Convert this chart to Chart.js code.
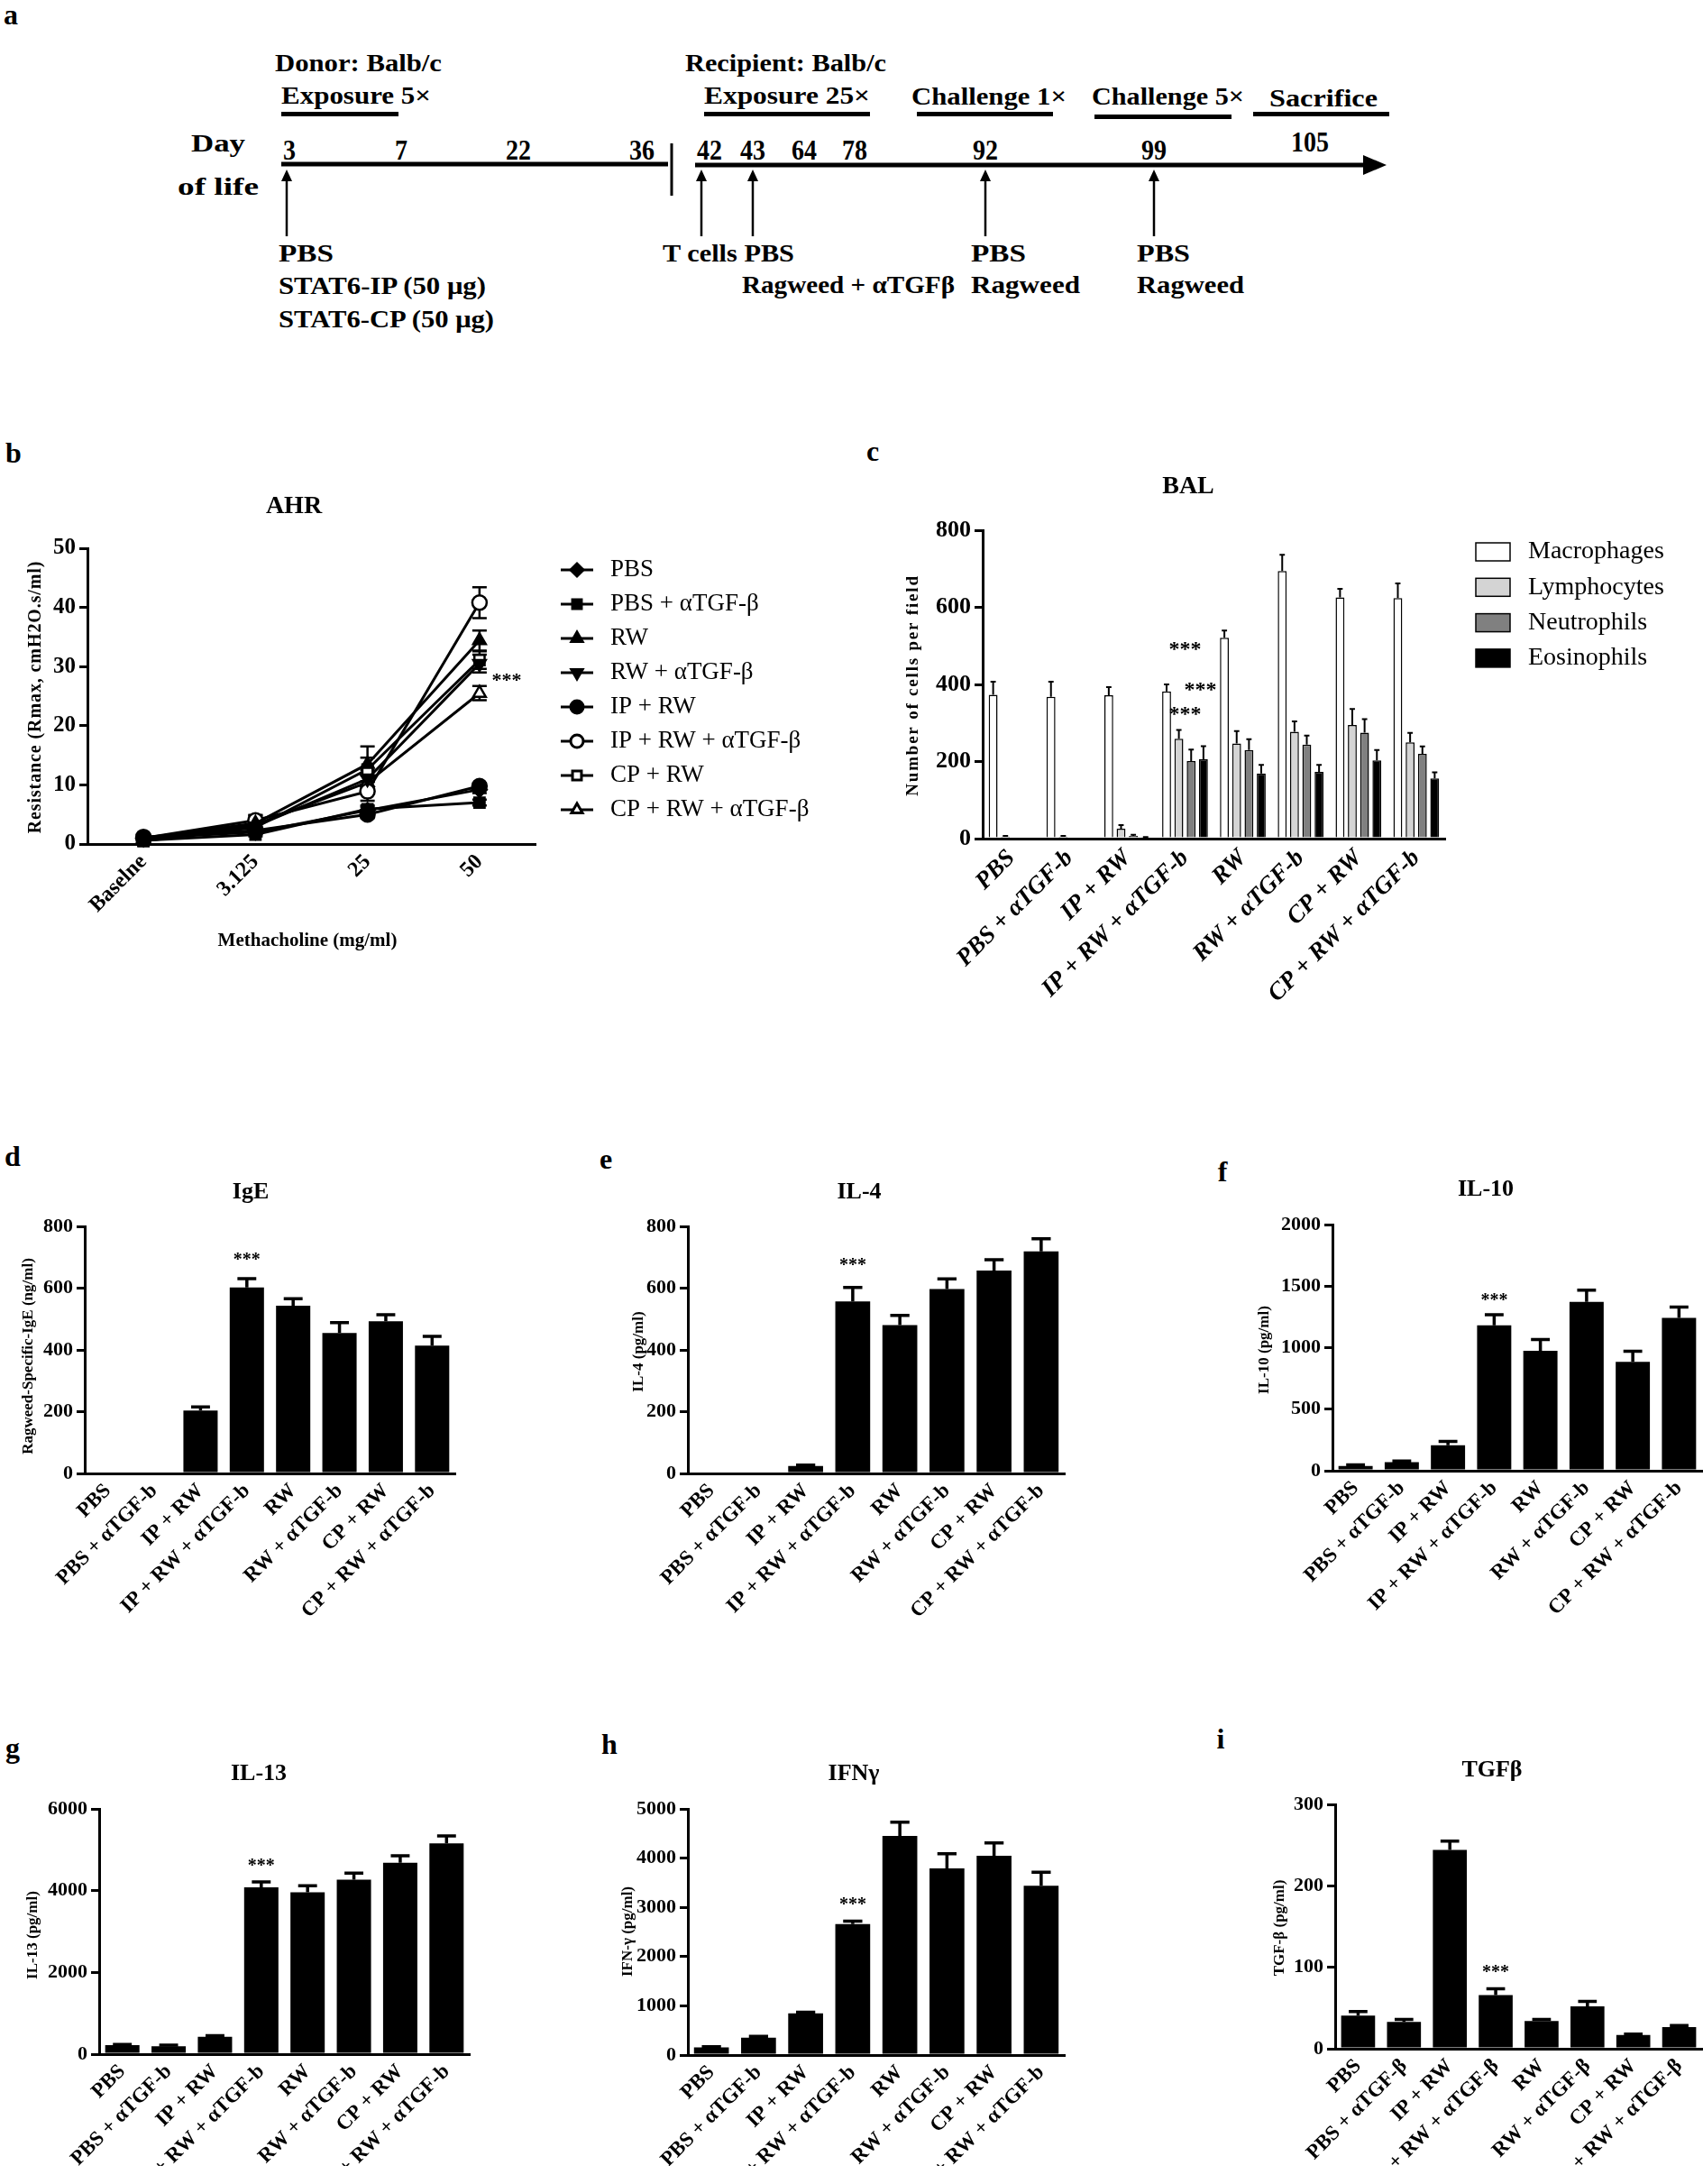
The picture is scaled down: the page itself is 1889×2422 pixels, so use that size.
<!DOCTYPE html>
<html>
<head>
<meta charset="utf-8">
<script src="https://cdn.jsdelivr.net/npm/chart.js@4.4.1/dist/chart.umd.min.js"></script>
<style>
  html, body { margin: 0; padding: 0; background: #fff; }
  #page { position: relative; width: 1889px; height: 2422px; overflow: hidden; background: #fff; }
  #page svg { position: absolute; left: 0; top: 0; }
  #page canvas { position: absolute; }
</style>
</head>
<body>
<div id="page">
<svg width="1889" height="420" font-family="Liberation Serif, Times New Roman, serif" font-weight="bold" fill="#000">
  <!-- header labels -->
  <g font-size="27">
    <text x="305" y="79" textLength="185" lengthAdjust="spacingAndGlyphs">Donor: Balb/c</text>
    <text x="312" y="115" textLength="166" lengthAdjust="spacingAndGlyphs">Exposure 5×</text>
    <text x="760" y="79" textLength="223" lengthAdjust="spacingAndGlyphs">Recipient: Balb/c</text>
    <text x="781" y="115" textLength="184" lengthAdjust="spacingAndGlyphs">Exposure 25×</text>
    <text x="1011" y="116" textLength="172" lengthAdjust="spacingAndGlyphs">Challenge 1×</text>
    <text x="1211" y="116" textLength="169" lengthAdjust="spacingAndGlyphs">Challenge 5×</text>
    <text x="1408" y="118" textLength="120" lengthAdjust="spacingAndGlyphs">Sacrifice</text>
    <text x="212" y="168" textLength="60" lengthAdjust="spacingAndGlyphs">Day</text>
    <text x="197" y="216" textLength="90" lengthAdjust="spacingAndGlyphs">of life</text>
  </g>
  <g stroke="none">
    <rect x="312" y="124" width="130" height="5"/>
    <rect x="781" y="124" width="184" height="5"/>
    <rect x="1017" y="124" width="151" height="5"/>
    <rect x="1214" y="127" width="152" height="5"/>
    <rect x="1390" y="124" width="151" height="5"/>
  </g>
  <!-- day numbers -->
  <g id="days" font-size="32" text-anchor="middle"></g>
  <!-- time line -->
  <line x1="312" y1="182" x2="741" y2="182" stroke="#000" stroke-width="5"/>
  <line x1="745" y1="159" x2="745" y2="217" stroke="#000" stroke-width="3"/>
  <line x1="771" y1="183" x2="1516" y2="183" stroke="#000" stroke-width="5"/>
  <polygon points="1512,172 1538,183 1512,194"/>
  <g id="arrows"></g>
  <g font-size="27">
    <text x="309" y="290" textLength="61" lengthAdjust="spacingAndGlyphs">PBS</text>
    <text x="309" y="326" textLength="230" lengthAdjust="spacingAndGlyphs">STAT6-IP (50 μg)</text>
    <text x="309" y="363" textLength="239" lengthAdjust="spacingAndGlyphs">STAT6-CP (50 μg)</text>
    <text x="735" y="290" textLength="146" lengthAdjust="spacingAndGlyphs">T cells PBS</text>
    <text x="823" y="325" textLength="236" lengthAdjust="spacingAndGlyphs">Ragweed + αTGFβ</text>
    <text x="1077" y="290" textLength="61" lengthAdjust="spacingAndGlyphs">PBS</text>
    <text x="1077" y="325" textLength="121" lengthAdjust="spacingAndGlyphs">Ragweed</text>
    <text x="1261" y="290" textLength="59" lengthAdjust="spacingAndGlyphs">PBS</text>
    <text x="1261" y="325" textLength="119" lengthAdjust="spacingAndGlyphs">Ragweed</text>
  </g>
</svg>
<svg width="1889" height="2422" font-family="Liberation Serif, Times New Roman, serif" font-weight="bold" fill="#000" style="pointer-events:none">
  <g font-size="32" text-anchor="middle" dominant-baseline="central">
    <text x="12" y="16">a</text>
    <text x="15" y="502">b</text>
    <text x="968" y="500">c</text>
    <text x="14" y="1282">d</text>
    <text x="672" y="1285">e</text>
    <text x="1356" y="1299">f</text>
    <text x="14" y="1938">g</text>
    <text x="676" y="1934">h</text>
    <text x="1354" y="1928">i</text>
  </g>
</svg>
</div>
<script>
const SERIF = '"Liberation Serif", "Times New Roman", serif';

// ---------- panel a : timeline ----------
const dayLabels = ['3', '7', '22', '36', '42', '43', '64', '78', '92', '99', '105'];
const dayX = [321, 445, 575, 712, 787, 835, 892, 948, 1093, 1280, 1453];
const arrowX = [318, 778, 835, 1093, 1280];

// ---------- panel b : AHR ----------
const doses = ['Baselne', '3.125', '25', '50'];
const ahrNames = ['PBS', 'PBS + αTGF-β', 'RW', 'RW + αTGF-β', 'IP + RW', 'IP + RW + αTGF-β', 'CP + RW', 'CP + RW + αTGF-β'];
const ahrPbs = [1.0, 2.0, 5.7, 9.2];
const ahrPbsA = [0.6, 1.6, 5.9, 7.0];
const ahrRw = [1.0, 3.5, 13.5, 34.4];
const ahrRwA = [0.9, 3.0, 11.0, 30.5];
const ahrIp = [1.2, 2.3, 5.0, 9.8];
const ahrIpA = [1.0, 4.0, 8.9, 40.8];
const ahrCp = [0.5, 2.8, 12.6, 31.1];
const ahrCpA = [0.8, 3.3, 10.4, 25.5];
const ahrPbsErr = [0.3, 0.4, 0.6, 0.6];
const ahrPbsAErr = [0.2, 0.3, 0.6, 0.5];
const ahrRwErr = [0.3, 1.4, 3.0, 1.7];
const ahrRwAErr = [0.3, 0.8, 1.5, 1.5];
const ahrIpErr = [0.3, 0.5, 0.6, 0.5];
const ahrIpAErr = [0.3, 0.8, 1.6, 2.6];
const ahrCpErr = [0.2, 0.6, 2.0, 1.5];
const ahrCpAErr = [0.2, 0.6, 1.2, 1.2];

// ---------- panel c : BAL ----------
const groupsB = ['PBS', 'PBS + αTGF-b', 'IP + RW', 'IP + RW + αTGF-b', 'RW', 'RW + αTGF-b', 'CP + RW', 'CP + RW + αTGF-b'];
const groupsBeta = ['PBS', 'PBS + αTGF-β', 'IP + RW', 'IP + RW + αTGF-β', 'RW', 'RW + αTGF-β', 'CP + RW', 'CP + RW + αTGF-β'];
const cellTypes = ['Macrophages', 'Lymphocytes', 'Neutrophils', 'Eosinophils'];
const balMacro = [373, 368, 372, 382, 521, 694, 626, 624];
const balLymph = [5, 5, 26, 259, 247, 277, 295, 250];
const balNeut = [0, 0, 7, 201, 230, 244, 275, 220];
const balEos = [0, 0, 3, 206, 169, 173, 203, 156];
const balMacroErr = [34, 39, 21, 18, 19, 42, 22, 38];
const balLymphErr = [2, 2, 9, 23, 32, 27, 41, 24];
const balNeutErr = [0, 0, 3, 30, 28, 23, 35, 19];
const balEosErr = [0, 0, 1, 34, 22, 18, 27, 16];

// ---------- panels d - i ----------
const ige = [0, 0, 204, 602, 543, 455, 493, 414];
const igeErr = [0, 0, 11, 29, 23, 33, 21, 30];
const il4 = [0, 0, 24, 557, 480, 597, 657, 719];
const il4Err = [0, 0, 3, 45, 32, 33, 35, 41];
const il10 = [39, 70, 207, 1182, 975, 1371, 885, 1242];
const il10Err = [8, 8, 31, 86, 91, 96, 85, 88];
const il13 = [220, 195, 425, 4079, 3960, 4266, 4683, 5158];
const il13Err = [15, 26, 25, 136, 162, 162, 170, 179];
const ifng = [155, 353, 847, 2662, 4449, 3792, 4047, 3439];
const ifngErr = [15, 28, 22, 57, 283, 297, 261, 276];
const tgfb = [40.6, 33, 244, 66, 34, 52, 17, 26.5];
const tgfbErr = [5, 3, 11, 7.5, 2, 6, 1, 2];

// ---------- timeline drawing ----------
const NS = 'http://www.w3.org/2000/svg';
const daysG = document.getElementById('days');
dayLabels.forEach((d, i) => {
  const t = document.createElementNS(NS, 'text');
  t.setAttribute('x', dayX[i]);
  t.setAttribute('y', d === '105' ? 168 : 177);
  t.setAttribute('textLength', d.length * 14);
  t.setAttribute('lengthAdjust', 'spacingAndGlyphs');
  t.textContent = d;
  daysG.appendChild(t);
});
const arrowsG = document.getElementById('arrows');
arrowX.forEach(x => {
  const l = document.createElementNS(NS, 'line');
  l.setAttribute('x1', x); l.setAttribute('x2', x);
  l.setAttribute('y1', 262); l.setAttribute('y2', 198);
  l.setAttribute('stroke', '#000'); l.setAttribute('stroke-width', 2.5);
  arrowsG.appendChild(l);
  const p = document.createElementNS(NS, 'polygon');
  p.setAttribute('points', `${x - 6},201 ${x},188 ${x + 6},201`);
  arrowsG.appendChild(p);
});

// ---------- chart helpers ----------
Chart.defaults.animation = false;
Chart.defaults.responsive = false;
Chart.defaults.color = '#000';
Chart.defaults.font.family = SERIF;
Chart.defaults.plugins.legend.display = false;
Chart.defaults.plugins.tooltip.enabled = false;

function txt(ctx, s, x, y, font, opt = {}) {
  ctx.save();
  ctx.font = font;
  ctx.fillStyle = '#000';
  ctx.textAlign = opt.align || 'center';
  ctx.textBaseline = 'middle';
  if (opt.spacing) ctx.letterSpacing = opt.spacing + 'px';
  ctx.translate(x, y);
  if (opt.rot) ctx.rotate(opt.rot);
  ctx.fillText(s, 0, 0);
  ctx.restore();
}

// error bars, titles, stars and legends
const extras = {
  id: 'extras',
  beforeDatasetsDraw(chart, args, o) {
    const ctx = chart.ctx, ys = chart.scales.y;
    ctx.save();
    ctx.strokeStyle = '#000';
    ctx.lineWidth = o.errWidth || 3;
    chart.data.datasets.forEach((ds, di) => {
      if (!ds.err) return;
      chart.getDatasetMeta(di).data.forEach((el, i) => {
        const e = ds.err[i];
        if (!e) return;
        const v = ds.data[i];
        const top = ys.getPixelForValue(v + e);
        const bot = o.both ? ys.getPixelForValue(v - e) : el.y;
        const cap = o.cap || el.width * o.capRatio;
        ctx.beginPath();
        ctx.moveTo(el.x, bot); ctx.lineTo(el.x, top);
        ctx.moveTo(el.x - cap / 2, top); ctx.lineTo(el.x + cap / 2, top);
        if (o.both) { ctx.moveTo(el.x - cap / 2, bot); ctx.lineTo(el.x + cap / 2, bot); }
        ctx.stroke();
      });
    });
    ctx.restore();
  },
  afterDraw(chart, args, o) {
    const ctx = chart.ctx, ox = o.ox, oy = o.oy;
    const xs = chart.scales.x, ys = chart.scales.y;
    if (o.title) txt(ctx, o.title.text, o.title.x - ox, o.title.y - oy, `bold ${o.title.size}px ${SERIF}`);
    if (o.yTitle) txt(ctx, o.yTitle.text, o.yTitle.x - ox, o.yTitle.y - oy,
      `bold ${o.yTitle.size}px ${SERIF}`, { rot: -Math.PI / 2, spacing: o.yTitle.spacing });
    if (o.xTitle) txt(ctx, o.xTitle.text, o.xTitle.x - ox, o.xTitle.y - oy, `bold ${o.xTitle.size}px ${SERIF}`);
    (o.stars || []).forEach(s => {
      txt(ctx, '***', xs.getPixelForValue(s.i) + (s.dx || 0), ys.getPixelForValue(s.v), `bold ${o.starSize || 20}px ${SERIF}`);
    });
    if (o.pointLegend) {
      const L = o.pointLegend;
      chart.data.datasets.forEach((ds, i) => {
        const y = L.y0 + i * L.dy - oy, x = L.x - ox;
        ctx.save();
        ctx.strokeStyle = '#000';
        ctx.lineWidth = 3;
        ctx.beginPath(); ctx.moveTo(x - L.half, y); ctx.lineTo(x + L.half, y); ctx.stroke();
        ctx.fillStyle = ds.pointBackgroundColor;
        Chart.helpers.drawPoint(ctx, { pointStyle: ds.pointStyle, rotation: ds.pointRotation || 0, radius: L.r, borderWidth: ds.pointBorderWidth }, x, y);
        ctx.restore();
        txt(ctx, ds.label, L.tx - ox, y, `${L.size}px ${SERIF}`, { align: 'left' });
      });
    }
    if (o.boxLegend) {
      const L = o.boxLegend;
      chart.data.datasets.forEach((ds, i) => {
        const y = L.y0 + i * L.dy - oy;
        ctx.save();
        ctx.fillStyle = ds.backgroundColor;
        ctx.strokeStyle = '#000';
        ctx.lineWidth = 1.5;
        ctx.fillRect(L.x - ox, y - L.h / 2, L.w, L.h);
        ctx.strokeRect(L.x - ox, y - L.h / 2, L.w, L.h);
        ctx.restore();
        txt(ctx, ds.label, L.tx - ox, y, `${L.size}px ${SERIF}`, { align: 'left' });
      });
    }
  }
};
Chart.register(extras);

function yAxis(max, step, size) {
  return {
    min: 0, max: max,
    ticks: { stepSize: step, color: '#000', padding: 4, callback: v => String(v),
      font: { family: SERIF, size: size, weight: 'bold' } },
    grid: { display: true, drawOnChartArea: false, drawTicks: true, tickLength: 9, color: '#000', lineWidth: 3 },
    border: { display: true, color: '#000', width: 3 }
  };
}
function xAxis(size, italic) {
  return {
    offset: true,
    ticks: { color: '#000', autoSkip: false, maxRotation: 45, minRotation: 45, padding: 6,
      font: { family: SERIF, size: size, weight: 'bold', style: italic ? 'italic' : 'normal' } },
    grid: { display: false, drawTicks: false },
    border: { display: true, color: '#000', width: 3 }
  };
}

// box = [left, top, width, height] of canvas, area = [left, right, top, bottom] of plot
function panel(box, area, yW, xH, cfg) {
  const c = document.createElement('canvas');
  c.width = box[2]; c.height = box[3];
  c.style.left = box[0] + 'px'; c.style.top = box[1] + 'px';
  c.style.width = box[2] + 'px'; c.style.height = box[3] + 'px';
  document.getElementById('page').appendChild(c);
  cfg.options.layout = { padding: {
    left: area[0] - box[0] - yW,
    right: box[0] + box[2] - area[1],
    top: area[2] - box[1],
    bottom: box[1] + box[3] - area[3] - xH
  } };
  cfg.options.scales.y.afterFit = s => { s.width = yW; };
  cfg.options.scales.x.afterFit = s => { s.height = xH; };
  cfg.options.plugins.extras.ox = box[0];
  cfg.options.plugins.extras.oy = box[1];
  return new Chart(c, cfg);
}

// ---------- b : AHR line chart ----------
const ahrData = [ahrPbs, ahrPbsA, ahrRw, ahrRwA, ahrIp, ahrIpA, ahrCp, ahrCpA];
const ahrErr = [ahrPbsErr, ahrPbsAErr, ahrRwErr, ahrRwAErr, ahrIpErr, ahrIpAErr, ahrCpErr, ahrCpAErr];
const ahrMarks = [
  { s: 'rectRot', r: 0, f: '#000' }, { s: 'rect', r: 0, f: '#000' },
  { s: 'triangle', r: 0, f: '#000' }, { s: 'triangle', r: 180, f: '#000' },
  { s: 'circle', r: 0, f: '#000' }, { s: 'circle', r: 0, f: '#fff' },
  { s: 'rect', r: 0, f: '#fff' }, { s: 'triangle', r: 0, f: '#fff' }
];
panel([0, 480, 950, 620], [97, 594, 608, 936], 60, 80, {
  type: 'line',
  data: {
    labels: doses,
    datasets: ahrNames.map((name, i) => ({
      label: name, data: ahrData[i], err: ahrErr[i],
      borderColor: '#000', borderWidth: 3, tension: 0, clip: false,
      pointStyle: ahrMarks[i].s, pointRotation: ahrMarks[i].r,
      pointRadius: 8, pointBorderWidth: 2.5,
      pointBackgroundColor: ahrMarks[i].f, pointBorderColor: '#000'
    }))
  },
  options: {
    scales: { x: xAxis(24, false), y: yAxis(50, 10, 25) },
    plugins: { extras: {
      both: true, cap: 16, errWidth: 2.5,
      title: { text: 'AHR', x: 326, y: 562, size: 28 },
      yTitle: { text: 'Resistance (Rmax, cmH2O.s/ml)', x: 40, y: 773, size: 20, spacing: 0.9 },
      xTitle: { text: 'Methacholine (mg/ml)', x: 341, y: 1044, size: 21 },
      stars: [{ i: 3, v: 27.5, dx: 30 }], starSize: 22,
      pointLegend: { x: 640, half: 18, r: 7, tx: 677, y0: 632, dy: 38, size: 27 }
    } }
  }
});

// ---------- c : BAL grouped bars ----------
const balData = [balMacro, balLymph, balNeut, balEos];
const balErr = [balMacroErr, balLymphErr, balNeutErr, balEosErr];
const balFill = ['#ffffff', '#d4d4d4', '#808080', '#000000'];
panel([950, 480, 939, 720], [1090, 1603, 588, 930], 60, 220, {
  type: 'bar',
  data: {
    labels: groupsB,
    datasets: cellTypes.map((name, i) => ({
      label: name, data: balData[i], err: balErr[i],
      backgroundColor: balFill[i], borderColor: '#000', borderWidth: 1.5,
      categoryPercentage: 0.85, barPercentage: 0.72
    }))
  },
  options: {
    scales: { x: xAxis(27, true), y: yAxis(800, 200, 26) },
    plugins: { extras: {
      capRatio: 0.6, errWidth: 2,
      title: { text: 'BAL', x: 1318, y: 540, size: 28 },
      yTitle: { text: 'Number of cells per field', x: 1013, y: 760, size: 19, spacing: 1.8 },
      stars: [{ i: 3, v: 489, dx: 0 }, { i: 3, v: 384, dx: 17 }, { i: 3, v: 320, dx: 0 }], starSize: 24,
      boxLegend: { x: 1637, w: 38, h: 20, tx: 1695, y0: 612, dy: 39.3, size: 28 }
    } }
  }
});

// ---------- d - i : single bar charts ----------
function barPanel(box, area, yW, labels, data, err, max, step, ex) {
  ex.capRatio = 0.55;
  ex.errWidth = 3.5;
  return panel(box, area, yW, box[1] + box[3] - area[3] - 20, {
    type: 'bar',
    data: { labels: labels, datasets: [{ data: data, err: err, backgroundColor: '#000', borderWidth: 0,
      barPercentage: 0.74, categoryPercentage: 1 }] },
    options: { scales: { x: xAxis(23, false), y: yAxis(max, step, 22) }, plugins: { extras: ex } }
  });
}

barPanel([0, 1260, 630, 560], [94, 505, 1360, 1634], 55, groupsB, ige, igeErr, 800, 200, {
  title: { text: 'IgE', x: 278, y: 1322, size: 26 },
  yTitle: { text: 'Ragweed-Specific-IgE (ng/ml)', x: 32, y: 1504, size: 17 },
  stars: [{ i: 3, v: 690 }]
});
barPanel([630, 1260, 630, 560], [763, 1181, 1360, 1634], 55, groupsB, il4, il4Err, 800, 200, {
  title: { text: 'IL-4', x: 953, y: 1322, size: 26 },
  yTitle: { text: 'IL-4 (pg/ml)', x: 709, y: 1499, size: 17 },
  stars: [{ i: 3, v: 671 }]
});
barPanel([1260, 1260, 629, 560], [1478, 1888, 1358, 1631], 65, groupsB, il10, il10Err, 2000, 500, {
  title: { text: 'IL-10', x: 1648, y: 1319, size: 26 },
  yTitle: { text: 'IL-10 (pg/ml)', x: 1403, y: 1497, size: 17 },
  stars: [{ i: 3, v: 1376 }]
});
barPanel([0, 1830, 630, 592], [110, 521, 2006, 2278], 65, groupsB, il13, il13Err, 6000, 2000, {
  title: { text: 'IL-13', x: 287, y: 1967, size: 26 },
  yTitle: { text: 'IL-13 (pg/ml)', x: 37, y: 2146, size: 17 },
  stars: [{ i: 3, v: 4589 }]
});
barPanel([630, 1830, 630, 592], [763, 1181, 2006, 2279], 65, groupsB, ifng, ifngErr, 5000, 1000, {
  title: { text: 'IFNγ', x: 947, y: 1967, size: 26 },
  yTitle: { text: 'IFN-γ (pg/ml)', x: 697, y: 2142, size: 17 },
  stars: [{ i: 3, v: 3051 }]
});
barPanel([1260, 1830, 629, 592], [1481, 1888, 2001, 2272], 60, groupsBeta, tgfb, tgfbErr, 300, 100, {
  title: { text: 'TGFβ', x: 1655, y: 1963, size: 26 },
  yTitle: { text: 'TGF-β (pg/ml)', x: 1420, y: 2138, size: 17 },
  stars: [{ i: 3, v: 93 }]
});
</script>
</body>
</html>
